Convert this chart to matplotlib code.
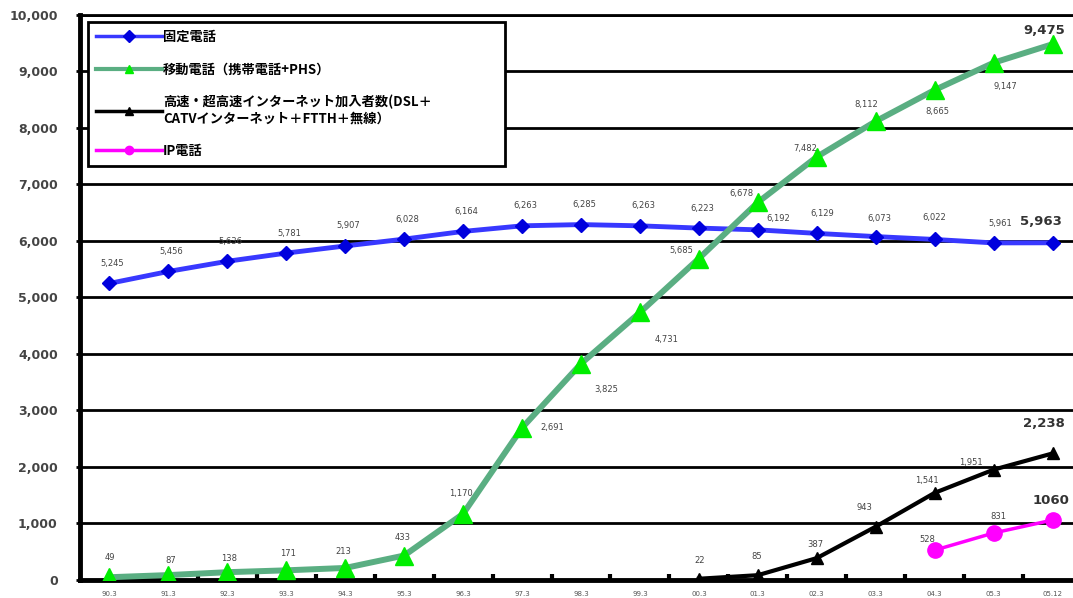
import matplotlib
matplotlib.use("Agg")
import matplotlib.pyplot as plt
from matplotlib.font_manager import FontProperties
import numpy as np

plt.rcParams['font.family'] = ['Noto Sans CJK JP', 'DejaVu Sans']

periods = ['90.3', '91.3', '92.3', '93.3', '94.3', '95.3', '96.3', '97.3', '98.3',
           '99.3', '00.3', '01.3', '02.3', '03.3', '04.3', '05.3', '05.12']

fixed = [5245, 5456, 5636, 5781, 5907, 6028, 6164, 6263, 6285,
         6263, 6223, 6192, 6129, 6073, 6022, 5961, 5963]
mobile = [49, 87, 138, 171, 213, 433, 1170, 2691, 3825,
          4731, 5685, 6678, 7482, 8112, 8665, 9147, 9475]
broadband = [22, 85, 387, 943, 1541, 1951, 2238]      # from 00.3
ip_phone = [528, 831, 1060]                            # from 04.3

names = ['固定電話',
         '移動電話（携帯電話+PHS）',
         '高速・超高速インターネット加入者数(DSL＋\nCATVインターネット＋FTTH＋無線）',
         'IP電話']

# label offsets in pixels (dx, dy) for each point
fixed_off = [(3, 20)] * 11 + [(20, 11), (5, 20), (4, 18), (0, 22), (7, 19), (-12, 21)]
mobile_off = [(0, 20), (2, 15), (2, 14), (2, 17), (-2, 16), (-2, 18), (-2, 20),
              (30, 0), (25, -26), (27, -27), (-18, 8), (-16, 9), (-12, 8),
              (-9, 17), (3, -22), (12, -24), (-8, 14)]
broadband_off = [(1, 18), (-1, 19), (-1, 14), (-11, 19), (-8, 12), (-23, 7), (-9, 30)]
ip_off = [(-7, 11), (5, 17), (-2, 20)]

x = np.arange(len(periods))
x_bb = x[len(periods) - len(broadband):]
x_ip = x[len(periods) - len(ip_phone):]

fig = plt.figure(figsize=(10.73, 5.98), dpi=100)
ax = fig.add_axes([80 / 1073, 18 / 598, 1002 / 1073, 565.5 / 598])

l1, = ax.plot(x, fixed, color='#3838ff', lw=3.5, marker='D', ms=7,
              mfc='#0000dd', mec='#0000dd', zorder=3)
l2, = ax.plot(x, mobile, color='#5aae82', lw=4.3, marker='^', ms=13,
              mfc='#00ee00', mec='#00ee00', zorder=4)
l3, = ax.plot(x_bb, broadband, color='black', lw=3, marker='^', ms=9, zorder=5)
l4, = ax.plot(x_ip, ip_phone, color='#ff00ff', lw=2.5, marker='o', ms=11, zorder=6)


def fmt(v):
    return f'{v:,}'


def put_labels(xs, vals, offs, last_plain=False):
    for i, (xi, v, o) in enumerate(zip(xs, vals, offs)):
        last = i == len(vals) - 1
        if last:
            txt = str(v) if last_plain else fmt(v)
            ax.annotate(txt, (xi, v), xytext=o, textcoords='offset pixels',
                        ha='center', va='center', fontsize=9.5, fontweight='bold',
                        color='#333333', family='DejaVu Sans', zorder=8)
        else:
            ax.annotate(fmt(v), (xi, v), xytext=o, textcoords='offset pixels',
                        ha='center', va='center', fontsize=6, color='#444444',
                        family='DejaVu Sans', zorder=8)


put_labels(x, fixed, fixed_off)
put_labels(x, mobile, mobile_off)
put_labels(x_bb, broadband, broadband_off)
put_labels(x_ip, ip_phone, ip_off, last_plain=True)

ax.set_xlim(-0.5, len(periods) - 0.5)
ax.set_ylim(0, 10000)
ax.set_yticks(np.arange(0, 10001, 1000))
ax.set_yticklabels([fmt(v) for v in range(0, 10001, 1000)],
                   fontsize=9, fontweight='bold', color='#444444', family='DejaVu Sans')
ax.set_xticks(x)
ax.set_xticklabels(periods, fontsize=5, color='#555555', family='DejaVu Sans')
ax.set_xticks(np.arange(0.5, len(periods) - 1, 1), minor=True)
ax.tick_params(axis='x', which='major', length=0, pad=8)
ax.tick_params(axis='x', which='minor', direction='in', length=4, width=3, color='black')
ax.tick_params(axis='y', which='major', direction='out', length=3, width=2, pad=13)

ax.yaxis.grid(True, color='black', lw=2)
ax.set_axisbelow(True)
for side in ['left', 'bottom']:
    ax.spines[side].set_linewidth(3.5)
ax.spines['top'].set_linewidth(2)
ax.spines['right'].set_visible(False)

leg = ax.legend([l1, l2, l3, l4], names, loc='upper left',
                bbox_to_anchor=(0.008, 0.713, 0.416, 0.274), mode='expand',
                prop=FontProperties(family=['Noto Sans CJK JP', 'DejaVu Sans'],
                                    weight='bold', size=9.5),
                handlelength=5.0, handletextpad=0.1, labelspacing=1.4,
                borderpad=0.6, borderaxespad=0, fancybox=False, framealpha=1,
                edgecolor='black', numpoints=1)
leg.get_frame().set_linewidth(2)
for h, lw in zip(leg.legend_handles, [2.5, 3, 2.5, 2.5]):
    h.set_markersize(6)
    h.set_linewidth(lw)
leg.set_zorder(10)

fig.savefig('out.png', dpi=100)
